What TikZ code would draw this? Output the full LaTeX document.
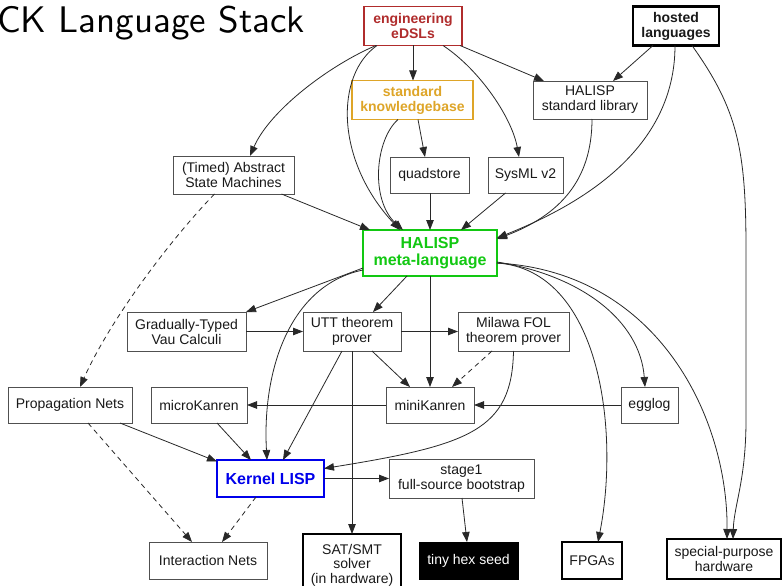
\documentclass[tikz,border=0pt]{standalone}
\usepackage{fontspec}
\newfontfamily\nodefont{Liberation Sans}
\newfontfamily\titlefont[Extension=.otf]{lmsans10-regular}
\usetikzlibrary{arrows.meta}

\definecolor{edslred}{RGB}{176,44,44}
\definecolor{kbgold}{RGB}{222,165,40}
\definecolor{metagreen}{RGB}{18,200,18}
\definecolor{kernblue}{RGB}{0,0,235}
\definecolor{edgegray}{RGB}{40,40,40}
\definecolor{boxgray}{RGB}{80,80,80}
\definecolor{textgray}{RGB}{25,25,25}

\tikzset{
  box/.style={draw=boxgray, line width=0.9pt, inner sep=0pt, outer sep=0pt,
    align=center, text=textgray, font=\nodefont\fontsize{14}{15}\selectfont},
  strongbox/.style={box, draw=black, line width=2pt},
  arr/.style={draw=edgegray, line width=0.8pt, -{Triangle[length=10pt,width=7.5pt]}},
  darr/.style={arr, dash pattern=on 5pt off 4pt},
}

\begin{document}
\begin{tikzpicture}[x=1pt,y=-1pt]
\useasboundingbox[fill=white] (0,0) rectangle (782,586);

% heading
\node[anchor=base east, inner sep=0pt, font=\titlefont\fontsize{37}{40}\selectfont] (title) at (305,33) {CK Language Stack};

% top row
\node[box, draw=edslred, line width=1.8pt, text=edslred, font=\nodefont\bfseries\fontsize{14}{15}\selectfont,
  minimum width=98pt, minimum height=39pt] (eds) at (413,26) {engineering\\eDSLs};
\node[strongbox, line width=2.4pt, font=\nodefont\bfseries\fontsize{14}{15}\selectfont,
  minimum width=86pt, minimum height=39pt] (hosted) at (676,26) {hosted\\languages};

\node[box, draw=kbgold, line width=1.8pt, text=kbgold, font=\nodefont\bfseries\fontsize{14}{15}\selectfont,
  minimum width=121pt, minimum height=39pt] (skb) at (412.5,100) {standard\\knowledgebase};
\node[box, minimum width=114pt, minimum height=38pt] (hstd) at (590,100) {HALISP\\standard library};

\node[box, minimum width=121pt, minimum height=38pt] (asm) at (233.5,175) {(Timed) Abstract\\State Machines};
\node[box, minimum width=79pt, minimum height=36pt] (quad) at (429.5,175) {quadstore};
\node[box, minimum width=75pt, minimum height=36pt] (sysml) at (525.5,175) {SysML v2};

\node[box, draw=metagreen, line width=2.8pt, text=metagreen, font=\nodefont\bfseries\fontsize{16}{17}\selectfont,
  minimum width=134pt, minimum height=46pt] (meta) at (430,253) {HALISP\\meta-language};

\node[box, minimum width=119pt, minimum height=39pt] (gtvc) at (186.5,331.5) {Gradually-Typed\\Vau Calculi};
\node[box, minimum width=98pt, minimum height=39pt] (utt) at (352,331.5) {UTT theorem\\prover};
\node[box, minimum width=111pt, minimum height=39pt] (milawa) at (513.5,331.5) {Milawa FOL\\theorem prover};

\node[box, minimum width=124pt, minimum height=36pt] (prop) at (70,405) {Propagation Nets};
\node[box, minimum width=96pt, minimum height=36pt] (micro) at (199,405) {microKanren};
\node[box, minimum width=88pt, minimum height=36pt] (mini) at (430,405) {miniKanren};
\node[box, minimum width=57pt, minimum height=36pt] (egg) at (649.5,405) {egglog};

\node[box, draw=kernblue, line width=2.8pt, text=kernblue, font=\nodefont\bfseries\fontsize{16}{17}\selectfont,
  minimum width=107pt, minimum height=37pt] (kernel) at (270.5,478.5) {Kernel LISP};
\node[box, minimum width=145pt, minimum height=39pt] (stage1) at (461.5,478.5) {stage1\\full-source bootstrap};

% bottom row
\node[box, minimum width=118pt, minimum height=37pt] (inter) at (208,560.5) {Interaction Nets};
\node[strongbox, font=\nodefont\fontsize{14}{14.5}\selectfont,
  minimum width=98pt, minimum height=62pt] (sat) at (352,565) {SAT/SMT\\solver\\(in hardware)};
\node[box, draw=black, fill=black, text=white, minimum width=99pt, minimum height=37pt] (hex) at (468.5,560.5) {tiny hex seed};
\node[strongbox, minimum width=60pt, minimum height=37pt] (fpga) at (592,560.5) {FPGAs};
\node[strongbox, minimum width=114pt, minimum height=40pt] (spec) at (724,559) {special-purpose\\hardware};

% connectors from the top row
\draw[arr] ([xshift=-37pt]eds.south) .. controls (330,65) and (270,110) .. ([xshift=16.5pt]asm.north);
\draw[arr] (eds.south) -- (eds.south |- skb.north);
\draw[arr] ([xshift=-36pt]eds.south) .. controls (335,75) and (335,160) .. ([xshift=-30pt]meta.north);
\draw[arr] ([xshift=47pt]eds.south) -- ([xshift=-46pt]hstd.north);
\draw[arr] ([xshift=30pt]eds.south) .. controls (480,70) and (512,118) .. ([xshift=-6.5pt]sysml.north);

\draw[arr] ([xshift=-14.5pt]skb.south) .. controls (375,140) and (370,200) .. ([xshift=-27pt]meta.north);
\draw[arr] ([xshift=5.5pt]skb.south) -- ([xshift=-4.5pt]quad.north);

\draw[arr] ([xshift=-23pt]hosted.south) -- ([xshift=23pt]hstd.north);
\draw[arr] ([xshift=-1pt]hosted.south) .. controls (675,150) and (580,205) .. ([yshift=-8pt]meta.north east);
\draw[arr] ([xshift=2pt]hstd.south) .. controls (592,180) and (560,215) .. ([yshift=-9pt]meta.north east);
\draw[arr] ([xshift=16pt]hosted.south) .. controls (738,110) and (746,150) .. (746,250)
  -- (746,420) .. controls (746,480) and (734,505) .. ([xshift=9pt]spec.north);

% into and out of the meta-language
\draw[arr] ([xshift=48pt]asm.south) -- ([xshift=-60pt]meta.north);
\draw[darr] ([xshift=-19pt]asm.south) .. controls (170,240) and (110,320) .. ([xshift=10pt]prop.north);
\draw[arr] ([xshift=0.5pt]quad.south) -- (meta.north);
\draw[arr] ([xshift=-20pt]sysml.south) -- ([xshift=31pt]meta.north);

\draw[arr] ([yshift=-15pt]meta.west) -- (gtvc.north east);
\draw[arr] ([xshift=-23pt]meta.south) -- ([xshift=21pt]utt.north);
\draw[arr] (meta.south) -- (mini.north);
\draw[arr] ([yshift=-17pt]meta.west) .. controls (290,285) and (262,370) .. ([xshift=-3.5pt]kernel.north);
\draw[arr] ([yshift=-9pt]meta.east) .. controls (580,275) and (640,320) .. ([xshift=-4.5pt]egg.north);
\draw[arr] ([yshift=-10pt]meta.east) .. controls (600,270) and (620,430) .. ([xshift=6pt]fpga.north);
\draw[arr] ([yshift=-10pt]meta.east) .. controls (660,272) and (728,420) .. ([xshift=3pt]spec.north);

% provers
\draw[arr] (gtvc.east) -- (utt.west);
\draw[arr] (utt.east) -- (milawa.west);
\draw[arr] ([xshift=20pt]utt.south) -- ([xshift=-20pt]mini.north);
\draw[arr] ([xshift=-10pt]utt.south) -- ([xshift=12.5pt]kernel.north);
\draw[arr] (utt.south) -- (utt.south |- sat.north);
\draw[darr] ([xshift=-21.5pt]milawa.south) -- ([xshift=22pt]mini.north);
\draw[arr] (milawa.south) .. controls (512,430) and (470,445) .. ([yshift=10pt]kernel.east);

% logic engines
\draw[arr] (mini.west) -- (micro.east);
\draw[arr] (egg.west) -- (mini.east);

% towards the kernel and below
\draw[arr] ([xshift=50pt]prop.south) -- ([yshift=17pt]kernel.west);
\draw[darr] ([xshift=18pt]prop.south) -- ([xshift=-16pt]inter.north);
\draw[arr] ([xshift=18pt]micro.south) -- ([xshift=-19.5pt]kernel.north);
\draw[darr] ([xshift=-14.5pt]kernel.south) -- ([xshift=14pt]inter.north);
\draw[arr] (kernel.east) -- (stage1.west);
\draw[arr] ([xshift=0.5pt]stage1.south) -- ([xshift=-1.5pt]hex.north);
\end{tikzpicture}
\end{document}
